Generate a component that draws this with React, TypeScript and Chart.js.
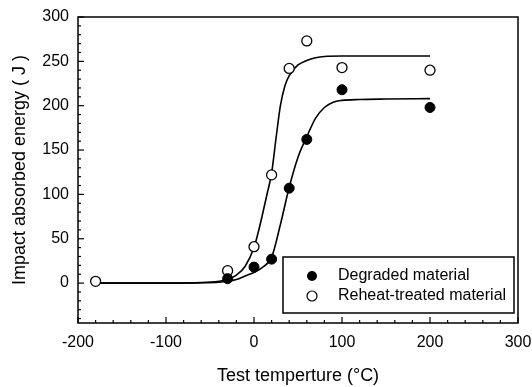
import React, { useEffect, useRef } from "react";
import { Chart, registerables } from "chart.js";

Chart.register(...registerables);

// Measured points
const degradedTemps = [-30, 0, 20, 40, 60, 100, 200];
const degradedEnergy = [5, 18, 27, 107, 162, 218, 198];
const reheatTemps = [-180, -30, 0, 20, 40, 60, 100, 200];
const reheatEnergy = [2, 14, 41, 122, 242, 273, 243, 240];

// Fitted curves
const degradedFitTemps = [-180, -100, -60, -40, -30, -20, -10, 0, 10, 20, 30, 40, 50, 60, 70, 80, 90, 100, 120, 150, 200];
const degradedFitEnergy = [0, 0, 0.3, 1, 2, 4, 8, 12, 18, 29, 66, 108, 142, 165, 186, 198, 204, 206, 207, 207.5, 208];
const reheatFitTemps = [-180, -100, -60, -40, -30, -20, -10, 0, 5, 10, 15, 20, 25, 30, 35, 40, 50, 60, 70, 80, 100, 150, 200];
const reheatFitEnergy = [0, 0, 0.5, 2, 4, 9, 19, 40, 58, 79, 101, 124, 163, 200, 222, 234, 246, 251, 254, 255.5, 256, 256, 256];

const xTickLabels = [-200, -100, 0, 100, 200, 300];
const yTickLabels = [0, 50, 100, 150, 200, 250, 300];
const legendLabels = ["Degraded material", "Reheat-treated material"];
const xTitle = "Test temperture (°C)";
const yTitle = "Impact absorbed energy ( J )";

const FONT = "'Liberation Sans', Arial, Helvetica, sans-serif";

const zip = (xs: number[], ys: number[]) => xs.map((x, i) => ({ x, y: ys[i] }));

const framePlugin = {
  id: "frame",
  afterDraw(chart: any) {
    const { ctx, chartArea } = chart;
    const xs = chart.scales.x;
    const ys = chart.scales.y;
    ctx.save();
    ctx.strokeStyle = "#000";
    ctx.lineWidth = 1.5;
    ctx.strokeRect(chartArea.left, chartArea.top, chartArea.right - chartArea.left, chartArea.bottom - chartArea.top);
    ctx.lineWidth = 1.2;
    for (let v = -40; v <= 300; v += 10) {
      const y = ys.getPixelForValue(v);
      const len = v % 50 === 0 ? 6 : 3;
      ctx.beginPath();
      ctx.moveTo(chartArea.left, y);
      ctx.lineTo(chartArea.left + len, y);
      ctx.stroke();
    }
    for (let v = -200; v <= 300; v += 20) {
      const x = xs.getPixelForValue(v);
      const len = v % 100 === 0 ? 6 : 3;
      ctx.beginPath();
      ctx.moveTo(x, chartArea.bottom);
      ctx.lineTo(x, chartArea.bottom - len);
      ctx.stroke();
    }
    // legend box
    const bx = Math.round(xs.getPixelForValue(33));
    const bx2 = Math.round(xs.getPixelForValue(295.5));
    const by = Math.round(ys.getPixelForValue(29));
    const by2 = Math.round(ys.getPixelForValue(-34));
    ctx.fillStyle = "#fff";
    ctx.fillRect(bx, by, bx2 - bx, by2 - by);
    ctx.lineWidth = 1.5;
    ctx.strokeRect(bx, by, bx2 - bx, by2 - by);
    const mx = bx + 29;
    const rows = [by + 19, by + 39];
    ctx.font = `16px ${FONT}`;
    ctx.textBaseline = "middle";
    ctx.textAlign = "left";
    rows.forEach((ry, i) => {
      ctx.beginPath();
      ctx.arc(mx, ry, 5, 0, Math.PI * 2);
      if (i === 0) {
        ctx.fillStyle = "#000";
        ctx.fill();
      } else {
        ctx.fillStyle = "#fff";
        ctx.fill();
        ctx.lineWidth = 1.2;
        ctx.strokeStyle = "#000";
        ctx.stroke();
      }
      ctx.fillStyle = "#000";
      ctx.fillText(legendLabels[i], bx + 55, ry);
    });
    ctx.restore();
  },
};

export default function App() {
  const ref = useRef<HTMLCanvasElement>(null);
  useEffect(() => {
    if (!ref.current) return;
    const chart = new Chart(ref.current, {
      type: "scatter",
      data: {
        datasets: [
          {
            label: legendLabels[0],
            data: zip(degradedTemps, degradedEnergy),
            pointRadius: 5,
            pointBackgroundColor: "#000",
            pointBorderColor: "#000",
            pointBorderWidth: 1,
            showLine: false,
            order: 1,
          },
          {
            label: legendLabels[1],
            data: zip(reheatTemps, reheatEnergy),
            pointRadius: 5,
            pointBackgroundColor: "#fff",
            pointBorderColor: "#000",
            pointBorderWidth: 1.3,
            showLine: false,
            order: 1,
          },
          {
            label: "degraded fit",
            data: zip(degradedFitTemps, degradedFitEnergy),
            showLine: true,
            pointRadius: 0,
            borderColor: "#000",
            borderWidth: 1.6,
            cubicInterpolationMode: "monotone",
            order: 2,
          },
          {
            label: "reheat fit",
            data: zip(reheatFitTemps, reheatFitEnergy),
            showLine: true,
            pointRadius: 0,
            borderColor: "#000",
            borderWidth: 1.6,
            cubicInterpolationMode: "monotone",
            order: 2,
          },
        ],
      } as any,
      options: {
        responsive: false,
        animation: false,
        layout: { padding: { top: 17, right: 14, left: 0, bottom: 0 } },
        plugins: { legend: { display: false }, tooltip: { enabled: false } },
        scales: {
          x: {
            type: "linear",
            min: -200,
            max: 300,
            afterFit: (s: any) => {
              s.height = 64;
              s.paddingLeft = 0;
              s.paddingRight = 0;
            },
            afterBuildTicks: (s: any) => {
              s.ticks = xTickLabels.map((v) => ({ value: v }));
            },
            ticks: { color: "#000", font: { family: FONT, size: 16 }, padding: 10, maxRotation: 0 },
            grid: { display: false, drawTicks: false },
            border: { display: false },
            title: {
              display: true,
              text: xTitle,
              color: "#000",
              font: { family: FONT, size: 18 },
              padding: { top: 0, bottom: 0 },
            },
          },
          y: {
            type: "linear",
            min: -45,
            max: 300,
            afterFit: (s: any) => {
              s.width = 78;
              s.paddingTop = 0;
              s.paddingBottom = 0;
            },
            afterBuildTicks: (s: any) => {
              s.ticks = yTickLabels.map((v) => ({ value: v }));
            },
            ticks: { color: "#000", font: { family: FONT, size: 16 }, padding: 9 },
            grid: { display: false, drawTicks: false },
            border: { display: false },
            title: {
              display: true,
              text: yTitle,
              color: "#000",
              font: { family: FONT, size: 18 },
              padding: { top: 9, bottom: 0 },
            },
          },
        },
      },
      plugins: [framePlugin],
    });
    return () => chart.destroy();
  }, []);
  return (
    <div style={{ position: "fixed", left: 0, top: 0, width: 532, height: 387, background: "#fff" }}>
      <canvas ref={ref} width={532} height={387} />
    </div>
  );
}
